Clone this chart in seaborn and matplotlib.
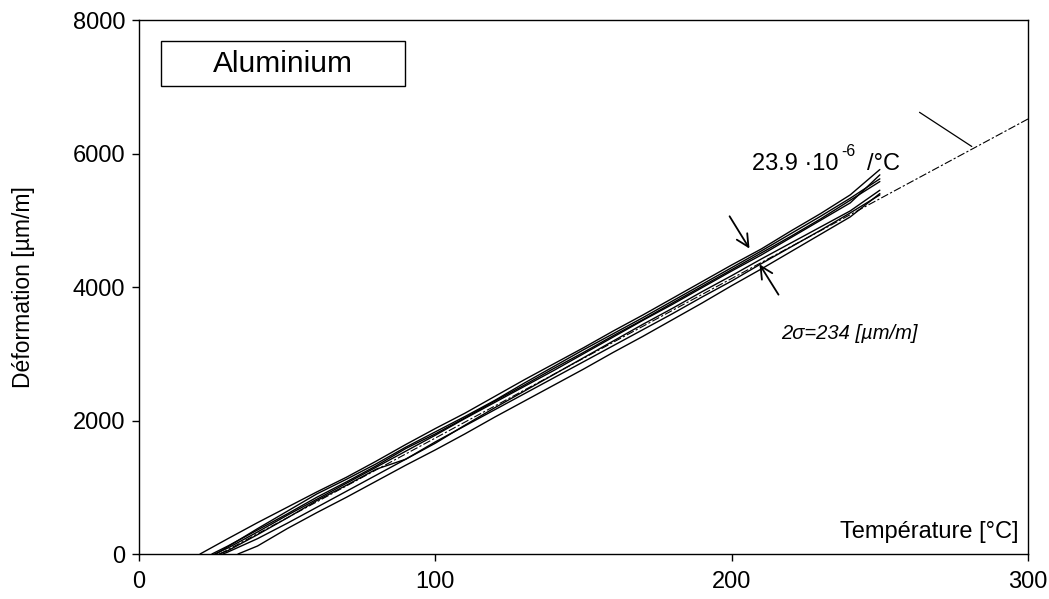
import numpy as np
import pandas as pd
import seaborn as sns
import matplotlib
matplotlib.use("Agg")
import matplotlib.pyplot as plt
from matplotlib.patches import Rectangle

# temperature grid [°C] shared by all runs
temp_grid = [30, 40, 50, 60, 70, 80, 90, 100, 110, 120, 130, 140, 150, 160,
             170, 180, 190, 200, 210, 220, 230, 240, 250]

# temperature where each run starts at zero strain
start_temp = {"A": 20.6, "B": 24.6, "C": 25.5, "D": 27.0, "E": 28.3, "F": 33.4, "G": 26.0}

# strain [µm/m] read at temp_grid for each run
strain_A = [230, 470, 700, 930, 1150, 1390, 1640, 1880, 2110, 2360, 2610, 2850, 3090, 3340,
            3580, 3830, 4080, 4330, 4570, 4840, 5100, 5380, 5760]
strain_B = [120, 360, 600, 850, 1080, 1320, 1580, 1800, 2040, 2290, 2530, 2780, 3020, 3270,
            3510, 3760, 4010, 4260, 4510, 4760, 5020, 5300, 5580]
strain_C = [90, 330, 580, 820, 1060, 1300, 1540, 1780, 2030, 2270, 2510, 2750, 3000, 3250,
            3500, 3740, 3990, 4240, 4480, 4740, 5000, 5260, 5680]
strain_D = [50, 290, 540, 800, 1030, 1270, 1420, 1660, 1930, 2190, 2440, 2690, 2940, 3190,
            3440, 3680, 3930, 4170, 4420, 4660, 4900, 5140, 5450]
strain_E = [30, 230, 460, 700, 940, 1180, 1420, 1680, 1920, 2160, 2400, 2640, 2880, 3120,
            3360, 3600, 3850, 4090, 4350, 4600, 4850, 5110, 5380]
strain_F = [np.nan, 120, 380, 620, 850, 1090, 1330, 1560, 1800, 2050, 2290, 2530, 2770, 3020,
            3260, 3510, 3760, 4020, 4270, 4530, 4790, 5050, 5400]
strain_G = [110, 380, 640, 900, 1120, 1350, 1600, 1830, 2060, 2300, 2560, 2810, 3060, 3300,
            3540, 3790, 4040, 4290, 4540, 4800, 5060, 5330, 5620]

runs = {"A": strain_A, "B": strain_B, "C": strain_C, "D": strain_D,
        "E": strain_E, "F": strain_F, "G": strain_G}

# fitted expansion coefficient
alpha = 23.9          # µm/m/°C
fit_zero = 27.3       # °C where the fit crosses zero
fit_temp = [fit_zero, 300]

rows = []
for name, vals in runs.items():
    rows.append((name, start_temp[name], 0.0))
    for t, v in zip(temp_grid, vals):
        if not np.isnan(v):
            rows.append((name, t, v))
df = pd.DataFrame(rows, columns=["run", "temp", "strain"])

fit_df = pd.DataFrame({"temp": fit_temp})
fit_df["strain"] = alpha * (fit_df["temp"] - fit_zero)

sns.set_style("ticks")
plt.rcParams["font.family"] = ["Liberation Sans", "DejaVu Sans"]
plt.rcParams["text.color"] = "black"
plt.rcParams["xtick.color"] = "black"
plt.rcParams["ytick.color"] = "black"
plt.rcParams["axes.labelcolor"] = "black"

fig = plt.figure(figsize=(10.49, 5.99), dpi=100)
ax = fig.add_axes([0.1325, 0.0751, 0.8475, 0.8915])

sns.lineplot(data=fit_df, x="temp", y="strain", ax=ax, color="black", lw=0.8,
             dashes=False, zorder=1)
ax.lines[-1].set_dashes((7, 2, 2, 2))
sns.lineplot(data=df, x="temp", y="strain", units="run", estimator=None, sort=False,
             ax=ax, color="black", lw=1.0, zorder=2)

ax.set_xlim(0, 300)
ax.set_ylim(0, 8000)
ax.set_xticks([0, 100, 200, 300])
ax.set_yticks([0, 2000, 4000, 6000, 8000])
ax.tick_params(labelsize=17, length=5, width=1, direction="out")
ax.tick_params(axis="x", pad=7)
ax.tick_params(axis="y", pad=5)
for s in ax.spines.values():
    s.set_color("black")
    s.set_linewidth(1)

ax.set_xlabel("")
ax.set_ylabel("Déformation [µm/m]", fontsize=16.5, labelpad=27)
ax.text(296.7, 330, "Température [°C]", fontsize=17, ha="right", va="center")

# title box
ax.add_patch(Rectangle((0.0247, 0.8764), 0.2745, 0.0843, transform=ax.transAxes,
                       fill=False, lw=1, edgecolor="black"))
ax.text(0.162, 0.918, "Aluminium", transform=ax.transAxes, fontsize=21.5,
        ha="center", va="center")

# slope label with leader
t_lead = 281.8
ax.annotate("", xy=(t_lead, alpha * (t_lead - fit_zero)), xytext=(262.6, 6640),
            arrowprops=dict(arrowstyle="-", lw=0.9, color="black"))
base = ax.text(206.9, 5850, "23.9 ·10", fontsize=17, ha="left", va="center")
sup = ax.annotate("-6", xy=(1.0, 0.72), xycoords=base, fontsize=11.5,
                  ha="left", va="bottom", xytext=(2, 0), textcoords="offset points")
ax.annotate("/°C", xy=(1.0, 0.0), xycoords=(sup, base), fontsize=17,
            ha="left", va="bottom", xytext=(8, 0), textcoords="offset points")

# scatter band arrows
arrow_kw = dict(arrowstyle="->", lw=1.3, color="black", mutation_scale=22)
ax.annotate("", xy=(206.5, 4540), xytext=(198.8, 5095), arrowprops=arrow_kw)
ax.annotate("", xy=(208.9, 4375), xytext=(216.3, 3850), arrowprops=arrow_kw)
ax.text(239.6, 3310, "2σ=234 [µm/m]", fontsize=14.5, style="italic",
        ha="center", va="center")

fig.savefig("out.png", dpi=100)
